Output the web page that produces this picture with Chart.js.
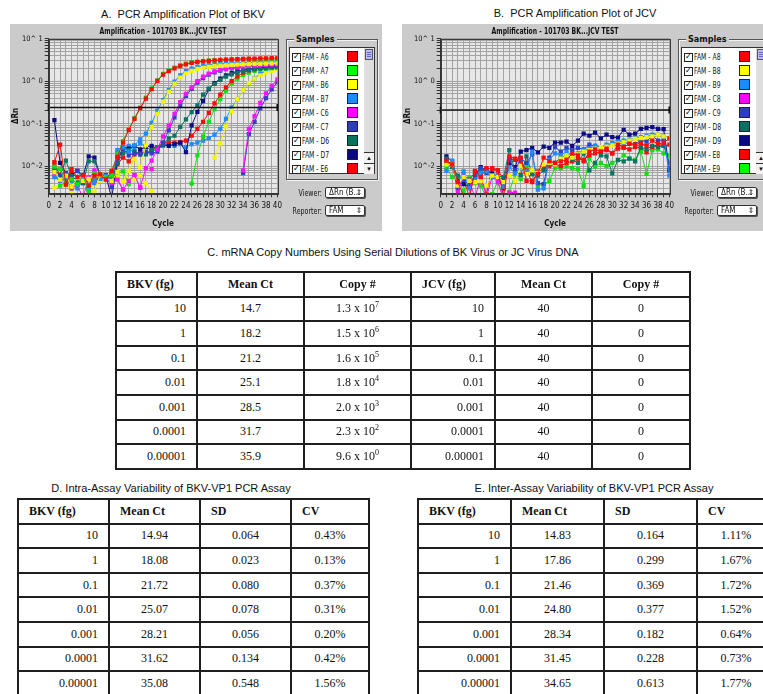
<!DOCTYPE html>
<html>
<head>
<meta charset="utf-8">
<script src="https://cdn.jsdelivr.net/npm/chart.js@4.4.1/dist/chart.umd.min.js"></script>
<style>
  html, body { margin: 0; padding: 0; background: #fff; }
  body { width: 763px; height: 694px; overflow: hidden; position: relative; font-family: 'Liberation Sans', Arial, sans-serif; color: #111; }
  .ptitle { position: absolute; font-size: 11px; white-space: pre; transform: translate(-50%, -50%); line-height: 13px; }
  .panel { position: absolute; top: 24px; width: 372px; height: 207px; background: #cbcbcb; overflow: hidden; }
  .panel canvas { position: absolute; left: 0; top: 0; }
  .ui { font-family: 'DejaVu Sans Condensed', 'Liberation Sans Narrow', 'Liberation Sans', Arial, sans-serif; }
  .frame { position: absolute; left: 276px; top: 15px; width: 92px; height: 141px; box-sizing: border-box; border: 1px solid #555; box-shadow: 1px 1px 0 #f4f4f4, inset 1px 1px 0 #f4f4f4; }
  .frameLabel { position: absolute; left: 284px; top: 10px; padding: 0 2px; background: #cbcbcb; font-size: 9px; font-weight: bold; line-height: 11px; }
  .list { position: absolute; left: 279px; top: 23px; width: 76px; height: 127px; box-sizing: border-box; background: #fff; border: 1px solid #333; }
  .item { position: absolute; left: 0; width: 74px; height: 14px; }
  .chk { position: absolute; left: 2px; top: 3px; width: 7px; height: 7px; border: 1px solid #222; background: #fff; }
  .chk span { position: absolute; left: 0px; top: -4px; font-size: 9px; font-weight: bold; line-height: 12px; color: #111; }
  .itxt { position: absolute; left: 12px; top: 1px; font-size: 8.5px; line-height: 12px; white-space: pre; transform: scaleX(0.8); transform-origin: 0 50%; }
  .sw { position: absolute; left: 57px; top: 1px; width: 11px; height: 11px; box-sizing: border-box; border: 1px solid #222; }
  .scroll { position: absolute; left: 354px; top: 23px; width: 11px; height: 127px; box-sizing: border-box; border: 1px solid #333; border-left: none; background: #dedede; }
  .thumb { position: absolute; left: 1px; top: 1px; width: 8px; height: 11px; box-sizing: border-box; border: 1px solid #555; background: #b9b9f6; }
  .thumb i { position: absolute; left: 1px; width: 4px; height: 1px; background: #6a6acc; }
  .arr { position: absolute; left: 0; width: 10px; height: 11px; box-sizing: border-box; border-top: 1px solid #333; background: #f2f2f2; font-size: 6px; line-height: 10px; text-align: center; }
  .lbl { position: absolute; left: 240px; width: 72px; text-align: right; font-size: 9px; line-height: 12px; transform: scaleX(0.78); transform-origin: 100% 50%; }
  .drop { position: absolute; left: 315px; width: 40px; height: 11px; box-sizing: border-box; border: 1px solid #333; border-radius: 2px; background: #fff; box-shadow: 1px 1px 0 #555; font-size: 8px; line-height: 9px; padding-left: 3px; white-space: pre; overflow: hidden; }
  .drop .ud { position: absolute; right: 2px; top: 0; font-size: 8px; }
  table { position: absolute; border-collapse: collapse; table-layout: fixed; font-family: 'Liberation Serif', 'Times New Roman', serif; font-size: 12px; color: #111; }
  td { border: 2px solid #1e1e1e; height: 22.6px; padding: 0 10px; white-space: nowrap; overflow: hidden; }
  td.h { font-weight: bold; }
  td.l { text-align: left; }
  td.r { text-align: right; }
  td.c { text-align: center; padding: 0 2px; }
  sup { font-size: 8px; vertical-align: 0; position: relative; top: -5px; line-height: 0; }
</style>
</head>
<body>

<div class="ptitle" style="left:183px; top:14px;">A.  PCR Amplification Plot of BKV</div>
<div class="ptitle" style="left:575px; top:13px;">B.  PCR Amplification Plot of JCV</div>

<div class="panel" id="panelA" style="left:10px;"><canvas id="chartA" width="276" height="207"></canvas></div>
<div class="panel" id="panelB" style="left:402px;"><canvas id="chartB" width="276" height="207"></canvas></div>

<div class="ptitle" style="left:393px; top:252px;">C. mRNA Copy Numbers Using Serial Dilutions of BK Virus or JC Virus DNA</div>
<div class="ptitle" style="left:171px; top:488px;">D. Intra-Assay Variability of BKV-VP1 PCR Assay</div>
<div class="ptitle" style="left:594px; top:488px;">E. Inter-Assay Variability of BKV-VP1 PCR Assay</div>

<table id="tableC" style="left:115px; top:271px;"></table>
<table id="tableD" style="left:17px; top:498px;"></table>
<table id="tableE" style="left:417px; top:498px;"></table>

<script>
// ---------- amplification data (ΔRn per cycle) ----------
const cycles = [1,2,3,4,5,6,7,8,9,10,11,12,13,14,15,16,17,18,19,20,21,22,23,24,25,26,27,28,29,30,31,32,33,34,35,36,37,38,39,40];
const cycleLabels = [0,2,4,6,8,10,12,14,16,18,20,22,24,26,28,30,32,34,36,38,40];
const logGrid = [0.003,0.004,0.005,0.006,0.007,0.008,0.009,0.01,0.02,0.03,0.04,0.05,0.06,0.07,0.08,0.09,0.1,0.2,0.3,0.4,0.5,0.6,0.7,0.8,0.9,1,2,3,4,5,6,7,8,9,10];
const decadeTicks = [10, 1, 0.1, 0.01];
const decadeText = ['10^ 1', '10^ 0', '10^-1', '10^-2'];

// BKV wells (serial dilutions 10 fg ... 0.00001 fg, duplicates)
const bkvA6 = [0.0124,0.032,0.0037,0.0085,0.0055,0.0062,0.0035,0.0060,0.0064,0.0048,0.0078,0.0165,0.036,0.071,0.13,0.23,0.39,0.65,1.02,1.42,1.72,2.0,2.27,2.49,2.69,2.82,2.93,3.02,3.1,3.16,3.22,3.27,3.31,3.35,3.38,3.41,3.44,3.46,3.48,3.5];
const bkvA7 = [0.0098,0.0085,0.0037,0.0050,0.0038,0.0058,0.0026,0.0068,0.0065,0.0055,0.0060,0.019,0.039,0.074,0.135,0.24,0.41,0.68,1.05,1.48,1.8,2.1,2.38,2.6,2.76,2.88,2.98,3.05,3.1,3.15,3.19,3.22,3.25,3.27,3.29,3.31,3.32,3.33,3.34,3.35];
const bkvB6 = [0.0072,0.0048,0.0060,0.0033,0.0052,0.0045,0.0050,0.0026,0.0062,0.0052,0.0045,0.0072,0.0043,0.0078,0.0145,0.0092,0.031,0.084,0.17,0.33,0.56,0.88,1.22,1.52,1.76,1.94,2.07,2.17,2.25,2.32,2.37,2.42,2.46,2.49,2.52,2.55,2.57,2.59,2.61,2.63];
const bkvB7 = [0.0055,0.0046,0.0052,0.0045,0.0036,0.0050,0.0030,0.0045,0.0050,0.0058,0.0044,0.024,0.028,0.022,0.031,0.043,0.058,0.105,0.20,0.36,0.62,0.98,1.38,1.72,1.98,2.17,2.31,2.42,2.5,2.57,2.62,2.67,2.71,2.74,2.77,2.8,2.82,2.84,2.86,2.88];
const bkvC6 = [0.0060,0.0045,0.0053,0.0030,0.0036,0.0018,0.0055,0.0072,0.0052,0.0058,0.0040,0.0048,0.0028,0.0045,0.0062,0.0032,0.0090,0.0135,0.025,0.05,0.09,0.17,0.32,0.5,0.72,1.0,1.28,1.5,1.7,1.85,1.97,2.07,2.15,2.22,2.28,2.33,2.37,2.41,2.44,2.47];
const bkvC7 = [0.0078,0.0062,0.0069,0.0055,0.0078,0.0050,0.0028,0.0045,0.0055,0.0060,0.0032,0.015,0.026,0.018,0.020,0.019,0.022,0.020,0.022,0.036,0.07,0.14,0.27,0.45,0.66,0.92,1.18,1.42,1.62,1.78,1.92,2.02,2.1,2.17,2.23,2.28,2.32,2.36,2.39,2.42];
const bkvD6 = [0.0085,0.0062,0.0135,0.0058,0.0046,0.0040,0.013,0.013,0.0060,0.0055,0.0050,0.012,0.020,0.024,0.022,0.019,0.019,0.024,0.027,0.032,0.045,0.052,0.084,0.126,0.188,0.27,0.48,0.67,0.87,1.08,1.28,1.45,1.6,1.72,1.82,1.9,1.97,2.03,2.08,2.12];
const bkvD7 = [0.121,0.012,0.0069,0.0062,0.0078,0.0058,0.017,0.016,0.0060,0.0060,0.0018,0.012,0.028,0.026,0.030,0.025,0.028,0.030,0.026,0.032,0.030,0.033,0.036,0.0215,0.091,0.19,0.34,0.65,0.9,1.15,1.38,1.56,1.7,1.82,1.92,2.0,2.07,2.13,2.18,2.22];
const bkvE6 = [0.0115,0.0060,0.0048,0.0070,0.0052,0.0040,0.0052,0.0045,0.0058,0.0050,0.0070,0.011,0.016,0.013,0.019,0.022,0.020,0.024,0.028,0.035,0.036,0.036,0.037,0.040,0.052,0.075,0.11,0.18,0.30,0.48,0.72,1.0,1.3,1.58,1.8,1.98,2.1,2.2,2.28,2.35];
const bkvE7 = [0.0088,0.0035,0.0042,0.0030,0.0042,null,0.0030,0.0058,0.0050,0.0060,0.0050,0.0070,0.0075,0.0038,null,null,null,null,null,null,null,null,null,null,0.0039,0.018,0.05,0.11,0.22,0.38,0.6,0.88,1.15,1.4,1.6,1.75,1.87,1.96,2.03,2.08];
const bkvF6 = [0.0031,0.0036,0.0040,0.0024,0.0045,null,0.0048,0.0060,0.0045,0.0050,0.0060,0.0058,0.0075,0.0048,0.0048,0.0060,0.0040,0.0026,null,null,null,null,null,null,null,null,null,null,0.016,0.034,0.087,0.2,0.38,0.62,0.9,1.15,1.38,1.58,1.75,1.9];
const bkvF7 = [0.0065,0.0052,0.0058,0.0060,0.0030,0.0045,0.0052,0.0040,0.0058,0.0062,0.0050,0.020,0.022,0.030,0.026,0.035,0.030,0.022,0.025,0.030,0.032,0.030,0.033,0.028,0.033,0.036,0.040,0.046,0.055,0.075,0.13,0.24,0.38,0.62,0.88,1.17,1.5,1.75,1.95,2.1];
const bkvG6 = [null,null,0.0052,null,0.0042,null,0.0035,0.0080,0.0045,null,0.0052,0.0050,0.0028,null,0.0062,0.0031,null,0.0085,null,null,null,null,null,null,null,null,null,null,null,null,null,null,null,0.008,0.075,0.15,0.31,0.52,0.77,1.1];
const bkvG7 = [null,null,null,null,null,null,null,null,null,null,null,null,null,null,null,null,null,null,null,null,null,null,null,null,null,null,null,null,null,null,null,null,null,0.0069,0.057,0.11,0.23,0.4,0.64,0.95];

// JCV wells (no amplification, background only)
const jcvA8 = [0.0135,0.011,0.0042,0.0020,0.0018,0.0075,0.0055,0.0090,0.0085,0.0080,0.0019,0.017,0.015,0.016,0.0045,0.0045,0.0065,0.016,0.013,0.012,0.013,0.014,0.020,0.018,0.013,0.022,0.025,0.022,0.026,0.020,0.032,0.028,0.034,0.032,0.035,0.030,0.040,0.033,0.036,0.045];
const jcvB8 = [0.011,0.011,0.0035,0.0055,0.0045,0.0042,0.0045,0.0035,0.0060,0.0055,0.0042,0.0060,0.0045,0.010,0.0065,0.0080,0.0070,0.011,0.012,0.011,0.015,0.018,0.016,0.019,0.022,0.024,0.026,0.028,0.029,0.031,0.034,0.037,0.040,0.044,0.046,0.048,0.050,0.055,0.050,0.045];
const jcvB9 = [0.0078,0.0135,0.0040,0.0075,0.0030,0.0048,0.0070,0.0075,0.0055,0.0062,0.0032,0.0095,0.0068,0.0095,0.0075,0.022,0.0028,0.0030,0.014,0.020,0.018,0.022,0.017,0.020,0.024,0.026,0.030,0.027,0.032,0.035,0.038,0.040,0.042,0.045,0.048,0.052,0.055,0.055,0.050,0.006];
const jcvC8 = [0.0019,0.0017,0.0024,0.0063,0.0046,0.0018,0.0055,0.0019,0.0056,0.0042,0.0016,0.0024,0.0024,0.0012];
const jcvC9 = [0.0135,0.011,0.0030,0.0048,0.0036,0.0055,0.0090,0.0070,0.0060,0.0058,0.0035,0.014,0.0080,0.015,0.012,0.019,0.0040,0.0038,0.016,0.028,0.022,0.027,0.024,0.027,0.025,0.032,0.030,0.028,0.030,0.033,0.032,0.036,0.034,0.033,0.040,0.038,0.052,0.040,0.042,0.009];
const jcvD8 = [0.0150,0.0095,0.0060,0.0050,0.0048,0.0070,0.0085,0.0085,0.0060,0.0058,0.0055,0.024,0.0075,0.0062,0.017,0.0065,0.0060,0.0080,0.013,0.012,0.016,0.018,0.014,0.012,0.020,0.0080,0.012,0.018,0.017,0.0068,0.014,0.013,0.015,0.013,0.028,0.025,0.030,0.028,0.030,0.012];
const jcvD9 = [0.017,0.013,0.0045,0.0038,0.0033,0.0060,0.0095,0.0080,0.0068,0.0055,0.0030,0.012,0.0095,0.022,0.024,0.027,0.021,0.029,0.027,0.036,0.036,0.038,0.030,0.040,0.058,0.052,0.062,0.045,0.055,0.048,0.047,0.072,0.055,0.058,0.075,0.080,0.083,0.075,0.074,0.008];
const jcvE8 = [0.012,0.011,0.0030,0.0050,0.0019,0.0078,0.0060,0.0022,0.0090,0.0080,0.0050,0.015,0.014,0.013,0.0080,0.0042,0.0075,0.0090,0.010,0.011,0.010,0.012,0.013,0.015,0.014,0.018,0.020,0.022,0.024,0.020,0.026,0.027,0.025,0.028,0.027,0.021,0.028,0.033,0.030,0.032];
const jcvE9 = [0.0095,0.0055,0.0048,0.0026,0.0055,0.0040,0.0035,0.0018,0.0022,0.0045,0.0017,0.0025,0.0065,0.0050,0.0100,0.0065,0.0035,0.0038,0.0045,0.0092,0.0090,0.010,0.0090,0.0085,0.0034,0.015,0.0098,0.012,0.010,0.012,0.0138,0.018,0.015,0.014,0.022,0.0066,0.024,0.025,0.020,0.018];

const bkvThreshold = 0.24;
const jcvThreshold = 0.21;

// ---------- table data ----------
const dilutionFg = ['10', '1', '0.1', '0.01', '0.001', '0.0001', '0.00001'];
const bkvMeanCt = ['14.7', '18.2', '21.2', '25.1', '28.5', '31.7', '35.9'];
const bkvCopyMantissa = ['1.3', '1.5', '1.6', '1.8', '2.0', '2.3', '9.6'];
const bkvCopyExponent = ['7', '6', '5', '4', '3', '2', '0'];
const jcvMeanCt = ['40', '40', '40', '40', '40', '40', '40'];
const jcvCopy = ['0', '0', '0', '0', '0', '0', '0'];
const intraMeanCt = ['14.94', '18.08', '21.72', '25.07', '28.21', '31.62', '35.08'];
const intraSD = ['0.064', '0.023', '0.080', '0.078', '0.056', '0.134', '0.548'];
const intraCV = ['0.43%', '0.13%', '0.37%', '0.31%', '0.20%', '0.42%', '1.56%'];
const interMeanCt = ['14.83', '17.86', '21.46', '24.80', '28.34', '31.45', '34.65'];
const interSD = ['0.164', '0.299', '0.369', '0.377', '0.182', '0.228', '0.613'];
const interCV = ['1.11%', '1.67%', '1.72%', '1.52%', '0.64%', '0.73%', '1.77%'];

// ---------- styling ----------
const uiFont = "'DejaVu Sans Condensed', 'Liberation Sans Narrow', 'Liberation Sans', Arial, sans-serif";
const col = {
  red: '#ff0a0a', green: '#10e010', yellow: '#f4f400', sky: '#1e8cff',
  magenta: '#ff10ff', blue: '#2e42c2', teal: '#0c7264', navy: '#0c0c86'
};

const bkvWells = ['A6','A7','B6','B7','C6','C7','D6','D7','E6','E7','F6','F7','G6','G7'];
const bkvSeries = [bkvA6, bkvA7, bkvB6, bkvB7, bkvC6, bkvC7, bkvD6, bkvD7, bkvE6, bkvE7, bkvF6, bkvF7, bkvG6, bkvG7];
const bkvColors = [col.red, col.green, col.yellow, col.sky, col.magenta, col.blue, col.teal, col.navy, col.red, col.green, col.yellow, col.sky, col.magenta, col.blue];

const jcvWells = ['A8','B8','B9','C8','C9','D8','D9','E8','E9'];
const jcvSeries = [jcvA8, jcvB8, jcvB9, jcvC8, jcvC9, jcvD8, jcvD9, jcvE8, jcvE9];
const jcvColors = [col.red, col.yellow, col.sky, col.magenta, col.blue, col.teal, col.navy, col.red, col.green];

const swatch = {
  [col.red]: '#ff0000', [col.green]: '#00ff00', [col.yellow]: '#ffff00', [col.sky]: '#1a8cff',
  [col.magenta]: '#ff00ff', [col.blue]: '#2c3ebe', [col.teal]: '#0a705f', [col.navy]: '#0a0a80'
};

// plot background, frame and heading
const plotFrame = {
  id: 'plotFrame',
  beforeDraw(chart) {
    const { ctx, chartArea: a } = chart;
    ctx.save();
    ctx.fillStyle = '#e7e7e7';
    ctx.fillRect(a.left, a.top, a.right - a.left, a.bottom - a.top);
    ctx.restore();
  },
  afterDraw(chart) {
    const { ctx, chartArea: a } = chart;
    ctx.save();
    ctx.strokeStyle = '#3a3a3a';
    ctx.lineWidth = 1;
    ctx.strokeRect(Math.round(a.left) + 0.5, Math.round(a.top) + 0.5, Math.round(a.right - a.left), Math.round(a.bottom - a.top));
    ctx.fillStyle = '#111';
    ctx.font = 'bold 8.5px ' + uiFont;
    ctx.textAlign = 'center';
    ctx.textBaseline = 'middle';
    ctx.translate((a.left + a.right) / 2, 8);
    ctx.scale(0.8, 1);
    ctx.fillText('Amplification - 101703 BK...JCV TEST', 0, 0);
    ctx.restore();
  }
};

function decadeLabel(v) {
  const k = decadeTicks.findIndex(d => Math.abs(d - v) / d < 1e-6);
  return k >= 0 ? decadeText[k] : '';
}

function amplificationChart(canvasId, wells, series, colors, threshold) {
  const datasets = series.map((vals, i) => ({
    label: 'FAM - ' + wells[i],
    data: vals.map((v, k) => ({ x: cycles[k], y: v })),
    borderColor: colors[i],
    backgroundColor: colors[i],
    borderWidth: 1,
    pointStyle: 'rect',
    pointRadius: 3,
    pointBorderWidth: 0,
    pointHoverRadius: 3,
    spanGaps: false,
    tension: 0,
    order: i + 1
  }));
  datasets.push({
    label: 'Threshold',
    data: [{ x: 0, y: threshold }, { x: 40, y: threshold }],
    borderColor: '#111',
    backgroundColor: '#111',
    borderWidth: 1.5,
    pointStyle: 'line',
    rotation: 90,
    pointRadius: 3.5,
    pointBorderWidth: 2,
    order: 0,
    clip: 6
  });

  return new Chart(document.getElementById(canvasId), {
    type: 'line',
    data: { datasets },
    options: {
      responsive: false,
      animation: false,
      devicePixelRatio: 1,
      layout: { padding: { top: 14.7, right: 8, left: 0, bottom: 0 } },
      plugins: { legend: { display: false }, tooltip: { enabled: false }, title: { display: false } },
      scales: {
        x: {
          type: 'linear', min: 0, max: 40,
          afterFit(s) { s.height = 37.7; },
          ticks: {
            stepSize: 1, autoSkip: false, maxRotation: 0, padding: 4, color: '#111',
            font: { family: uiFont, size: 8 },
            callback: v => (cycleLabels.includes(v) ? String(v) : '')
          },
          grid: { color: '#a3a3a3', lineWidth: 1, tickLength: 4, tickColor: '#333' },
          border: { color: '#333', width: 1 },
          title: { display: true, text: 'Cycle', color: '#111', font: { family: uiFont, size: 8, weight: 'bold' }, padding: { top: 0, bottom: 2.5 } }
        },
        y: {
          type: 'logarithmic', min: 0.0023, max: 10,
          afterFit(s) { s.width = 38.7; },
          afterBuildTicks(s) { s.ticks = logGrid.map(v => ({ value: v })); },
          ticks: {
            autoSkip: false, padding: 2, color: '#111',
            font: { family: uiFont, size: 7.5 },
            callback: v => decadeLabel(v)
          },
          grid: { color: '#a3a3a3', lineWidth: 1, tickLength: 4, tickColor: '#333' },
          border: { color: '#333', width: 1 },
          title: { display: true, text: 'ΔRn', color: '#111', font: { family: uiFont, size: 8, weight: 'bold' }, padding: { top: 1, bottom: 0 } }
        }
      }
    },
    plugins: [plotFrame]
  });
}

// sample list, scrollbar and viewer controls of a panel
function buildControls(panelId, wells, colors) {
  const p = document.getElementById(panelId);
  let html = '<div class="frame"></div><div class="frameLabel ui">Samples</div><div class="list ui">';
  for (let i = 0; i < 9; i++) {
    html += '<div class="item" style="top:' + (2 + 14 * i) + 'px">' +
      '<div class="chk"><span>✓</span></div>' +
      '<div class="itxt">FAM - ' + wells[i] + '</div>' +
      '<div class="sw" style="background:' + swatch[colors[i]] + '"></div></div>';
  }
  html += '</div>';
  html += '<div class="scroll"><div class="thumb"><i style="top:2px"></i><i style="top:4px"></i><i style="top:6px"></i></div>' +
    '<div class="arr" style="top:104px">▲</div><div class="arr" style="top:115px">▼</div></div>';
  html += '<div class="lbl ui" style="top:163px">Viewer:</div>' +
    '<div class="drop ui" style="top:163px">ΔRn (B...<span class="ud">⇕</span></div>' +
    '<div class="lbl ui" style="top:181px">Reporter:</div>' +
    '<div class="drop ui" style="top:181px">FAM<span class="ud">⇕</span></div>';
  p.insertAdjacentHTML('beforeend', html);
}

function buildTable(id, widths, header, headerAlign, columns, aligns) {
  const t = document.getElementById(id);
  let html = '<colgroup>' + widths.map(w => '<col style="width:' + w + 'px">').join('') + '</colgroup>';
  html += '<tr>' + header.map((h, j) => '<td class="h ' + headerAlign[j] + '">' + h + '</td>').join('') + '</tr>';
  for (let r = 0; r < columns[0].length; r++) {
    html += '<tr>' + columns.map((c, j) => '<td class="' + aligns[j] + '">' + c[r] + '</td>').join('') + '</tr>';
  }
  t.innerHTML = html;
  t.style.width = widths.reduce((a, b) => a + b, 0) + 'px';
}

amplificationChart('chartA', bkvWells, bkvSeries, bkvColors, bkvThreshold);
amplificationChart('chartB', jcvWells, jcvSeries, jcvColors, jcvThreshold);
buildControls('panelA', bkvWells, bkvColors);
buildControls('panelB', jcvWells, jcvColors);

const bkvCopy = bkvCopyMantissa.map((m, i) => m + ' x 10<sup>' + bkvCopyExponent[i] + '</sup>');
buildTable('tableC', [81, 107, 107, 84, 97, 98],
  ['BKV (fg)', 'Mean Ct', 'Copy #', 'JCV (fg)', 'Mean Ct', 'Copy #'],
  ['l', 'c', 'c', 'l', 'c', 'c'],
  [dilutionFg, bkvMeanCt, bkvCopy, dilutionFg, jcvMeanCt, jcvCopy],
  ['r', 'c', 'c', 'r', 'c', 'c']);
buildTable('tableD', [91, 91, 91, 78],
  ['BKV (fg)', 'Mean Ct', 'SD', 'CV'],
  ['l', 'l', 'l', 'l'],
  [dilutionFg, intraMeanCt, intraSD, intraCV],
  ['r', 'c', 'c', 'c']);
buildTable('tableE', [93, 93, 93, 78],
  ['BKV (fg)', 'Mean Ct', 'SD', 'CV'],
  ['l', 'l', 'l', 'l'],
  [dilutionFg, interMeanCt, interSD, interCV],
  ['r', 'c', 'c', 'c']);
</script>
</body>
</html>
